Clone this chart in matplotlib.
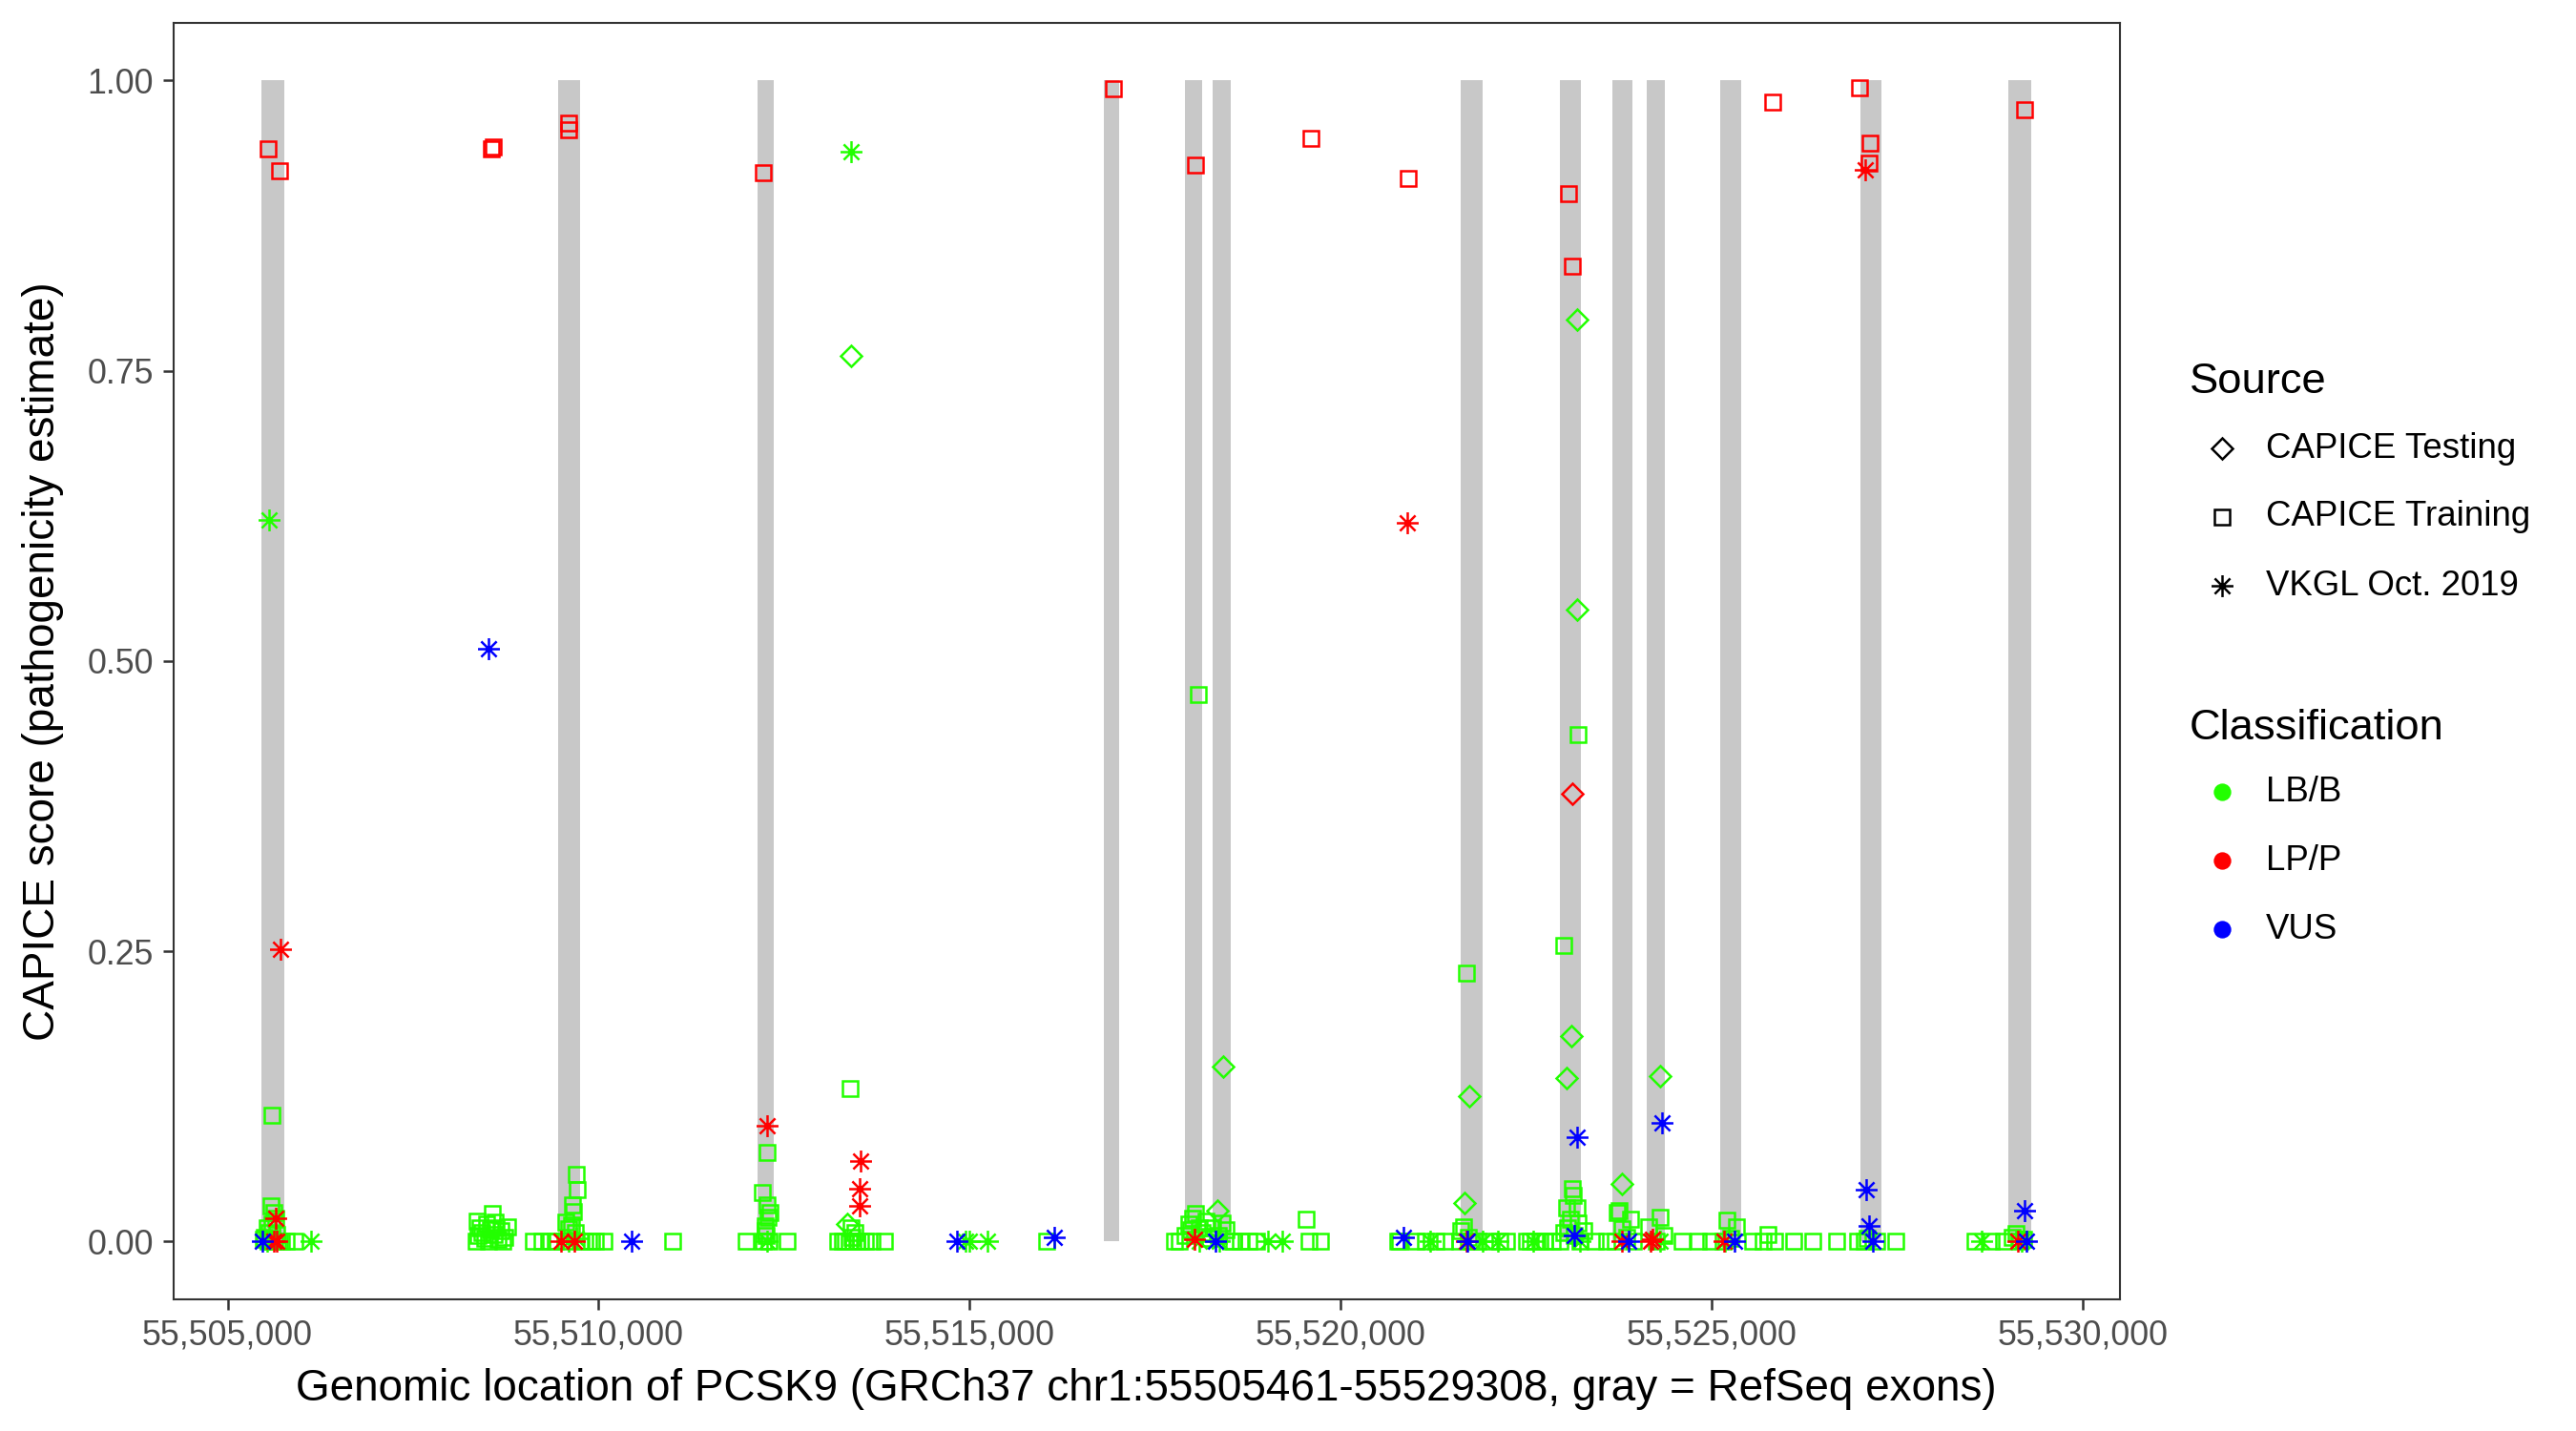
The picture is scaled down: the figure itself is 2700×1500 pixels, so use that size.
import matplotlib
matplotlib.use("Agg")
import matplotlib.pyplot as plt
from matplotlib.path import Path
from matplotlib.lines import Line2D
from matplotlib.ticker import FuncFormatter

plt.rcParams['font.family'] = ['Liberation Sans', 'DejaVu Sans']

# RefSeq exons (gray bars)
exon_start = [55505461, 55509456, 55512140, 55516810, 55517901, 55518274, 55521614,
              55522951, 55523664, 55524123, 55525115, 55527004, 55528996]
exon_end = [55505764, 55509752, 55512362, 55517017, 55518130, 55518521, 55521913,
            55523238, 55523934, 55524370, 55525397, 55527286, 55529308]

# CAPICE Training, LB/B
train_benign_pos = [
    55505596, 55505583, 55505620, 55505650, 55505530, 55505560, 55505600, 55505500,
    55505540, 55505580, 55505630, 55505680, 55505720, 55505790, 55505908, 55505480, 55505660,
    55508350, 55508380, 55508400, 55508430, 55508460, 55508490, 55508520, 55508540,
    55508563, 55508590, 55508620, 55508650, 55508680, 55508710, 55508740, 55508770,
    55508360, 55508600,
    55509120, 55509236, 55509351, 55509420, 55509550, 55509600, 55509640, 55509700,
    55509705, 55509645, 55509660, 55509560, 55509690, 55509760, 55509820, 55509900,
    55509954, 55510069, 55510997,
    55511989, 55512268, 55512200, 55512265, 55512280, 55512240, 55512260, 55512220,
    55512290, 55512250, 55512535, 55512310,
    55513383, 55513223, 55513280, 55513330, 55513380, 55513430, 55513480, 55513530,
    55513600, 55513680, 55513400, 55513450, 55513420, 55513853, 55516040,
    55517760, 55517830, 55517900, 55517950, 55518000, 55518040, 55517980, 55518090,
    55518086, 55518130, 55518180, 55518230, 55518280, 55518350, 55518400, 55518460,
    55518520, 55518560, 55518653, 55518760, 55518868, 55519540, 55519575, 55519724,
    55520774, 55520800, 55521009, 55521137, 55521287, 55521394, 55521688, 55521650,
    55521620, 55521720, 55521760, 55521600, 55521850, 55522000, 55522150, 55522233,
    55522508, 55522560, 55522620, 55522680, 55522750, 55522851,
    55523006, 55523196, 55523127, 55523130, 55523050, 55523180, 55523100, 55523200,
    55522950, 55523000, 55523060, 55523150, 55523230, 55523270, 55523430, 55523579,
    55523729, 55523750, 55523900, 55523793, 55523700, 55523850, 55523950, 55524150,
    55524306, 55524250, 55524350, 55524606, 55524820, 55524991,
    55525206, 55525334, 55525150, 55525250, 55525549, 55525698, 55525763, 55525849,
    55526106, 55526363, 55526684, 55526963, 55527050, 55527100, 55527220, 55527477,
    55528547, 55528761, 55528933, 55529050, 55529103, 55529150, 55529200]
train_benign_score = [
    0.109, 0.031, 0.025, 0.020, 0.012, 0.008, 0.015, 0.004,
    0.0, 0.0, 0.0, 0.0, 0.0, 0.0, 0.0, 0.002, 0.006,
    0.0, 0.005, 0.012, 0.008, 0.003, 0.015, 0.0, 0.010,
    0.024, 0.006, 0.012, 0.002, 0.009, 0.0, 0.004, 0.013,
    0.018, 0.017,
    0.0, 0.0, 0.0, 0.0, 0.0, 0.011, 0.014, 0.0575,
    0.0446, 0.0315, 0.026, 0.017, 0.008, 0.0, 0.0, 0.0,
    0.0, 0.0, 0.0,
    0.0, 0.0766, 0.0425, 0.0316, 0.0207, 0.0137, 0.005, 0.0,
    0.0, 0.009, 0.0, 0.025,
    0.1318, 0.0, 0.0, 0.0, 0.0, 0.0, 0.0, 0.0,
    0.0, 0.0, 0.012, 0.008, 0.004, 0.0, 0.0,
    0.0, 0.0, 0.005, 0.015, 0.020, 0.024, 0.010, 0.012,
    0.471, 0.008, 0.018, 0.003, 0.012, 0.005, 0.016, 0.010,
    0.0, 0.0, 0.0, 0.0, 0.0, 0.019, 0.0, 0.0,
    0.0, 0.0, 0.0, 0.0, 0.0, 0.0, 0.2314, 0.013,
    0.009, 0.004, 0.0, 0.0, 0.0, 0.0, 0.0, 0.0,
    0.0, 0.0, 0.0, 0.0, 0.0, 0.0,
    0.2548, 0.4368, 0.0458, 0.040, 0.029, 0.029, 0.019, 0.016,
    0.0, 0.008, 0.012, 0.005, 0.0, 0.009, 0.0, 0.0,
    0.0254, 0.027, 0.019, 0.011, 0.0, 0.004, 0.0, 0.013,
    0.021, 0.0, 0.005, 0.0, 0.0, 0.0,
    0.0186, 0.0125, 0.0, 0.003, 0.0, 0.0, 0.006, 0.0,
    0.0, 0.0, 0.0, 0.0, 0.0, 0.003, 0.0, 0.0,
    0.0, 0.0, 0.0, 0.004, 0.007, 0.0, 0.002]

# CAPICE Training, LP/P
train_path_pos = [55505550, 55505700, 55508560, 55508575, 55509590, 55509600, 55512223,
                  55516933, 55518040, 55519594, 55520907, 55523070, 55523127, 55525823,
                  55526988, 55527137, 55527120, 55529219]
train_path_score = [0.941, 0.922, 0.941, 0.943, 0.963, 0.958, 0.921,
                    0.993, 0.9275, 0.950, 0.9154, 0.9026, 0.8404, 0.9813,
                    0.9942, 0.9458, 0.929, 0.9747]

# CAPICE Testing, LB/B
test_benign_pos = [55513396, 55518419, 55518333, 55521728, 55521673, 55523185, 55523190,
                   55523104, 55523042, 55523793, 55524298, 55513348]
test_benign_score = [0.7627, 0.151, 0.027, 0.125, 0.033, 0.7942, 0.5442,
                     0.1769, 0.141, 0.0495, 0.1428, 0.0154]

# CAPICE Testing, LP/P
test_path_pos = [55523127]
test_path_score = [0.3856]

# VKGL Oct. 2019, LB/B
vkgl_benign_pos = [55505556, 55513396, 55505530, 55506127, 55509600, 55509700, 55512270,
                   55514948, 55514990, 55515235, 55518090, 55518360, 55519017, 55519210,
                   55521200, 55521908, 55522122, 55522600, 55523220, 55524306, 55525180,
                   55528632, 55529180]
vkgl_benign_score = [0.6217, 0.939, 0.0, 0.0, 0.0, 0.003, 0.0,
                     0.0, 0.0, 0.0, 0.0, 0.0, 0.0, 0.0,
                     0.0, 0.0, 0.0, 0.0, 0.0, 0.0, 0.0,
                     0.0, 0.0]

# VKGL Oct. 2019, LP/P
vkgl_path_pos = [55505714, 55505649, 55505620, 55505660, 55509493, 55509667, 55512268,
                 55513527, 55513522, 55513515, 55518033, 55520897, 55521695, 55523793,
                 55524178, 55524200, 55525164, 55527074, 55529125]
vkgl_path_score = [0.2515, 0.020, 0.0, 0.0, 0.0, 0.0, 0.0996,
                   0.0695, 0.0458, 0.031, 0.002, 0.6192, 0.0, 0.0,
                   0.0, 0.002, 0.0, 0.9231, 0.0]

# VKGL Oct. 2019, VUS
vkgl_vus_pos = [55505470, 55508519, 55510441, 55514834, 55516142, 55518311, 55520846,
                55521705, 55523185, 55523150, 55523879, 55524328, 55525313, 55527082,
                55527125, 55527168, 55529219, 55529240]
vkgl_vus_score = [0.0, 0.511, 0.0, 0.0, 0.0037, 0.0, 0.0036,
                  0.0, 0.0897, 0.005, 0.0, 0.102, 0.0, 0.0446,
                  0.0137, 0.0, 0.027, 0.0]

GREEN = '#22ff00'
RED = '#ff0000'
BLUE = '#0000ff'

# asterisk like R pch 8 (+ and x)
d = 0.7071
asterisk = Path([(0, -1), (0, 1), (-1, 0), (1, 0), (-d, -d), (d, d), (-d, d), (d, -d)],
                [Path.MOVETO, Path.LINETO] * 4)

shape = {'test': ('D', 3.9), 'train': ('s', 3.95), 'vkgl': (asterisk, 5.5)}
MEW = 0.6

fig = plt.figure(figsize=(9, 5), dpi=300)
ax = fig.add_axes([181.7 / 2700, 1 - 1362.3 / 1500, (2221.9 - 181.7) / 2700, (1362.3 - 23.6) / 1500])

# exons
widths = [e - s for s, e in zip(exon_start, exon_end)]
ax.bar(exon_start, [1.0] * len(exon_start), width=widths, bottom=0, align='edge',
       color='#c8c8c8', linewidth=0, zorder=1)

layers = [
    ('train', GREEN, train_benign_pos, train_benign_score),
    ('test', GREEN, test_benign_pos, test_benign_score),
    ('vkgl', GREEN, vkgl_benign_pos, vkgl_benign_score),
    ('train', RED, train_path_pos, train_path_score),
    ('test', RED, test_path_pos, test_path_score),
    ('vkgl', RED, vkgl_path_pos, vkgl_path_score),
    ('vkgl', BLUE, vkgl_vus_pos, vkgl_vus_score),
]
for src, col, xs, ys in layers:
    m, ms = shape[src]
    ax.plot(xs, ys, linestyle='none', marker=m, markersize=ms, mfc='none',
            mec=col, mew=MEW, zorder=2)

# ggplot-like 5% expansion
xmin = min(exon_start + vkgl_vus_pos)
xmax = max(exon_end + vkgl_vus_pos)
pad = 0.05 * (xmax - xmin)
ax.set_xlim(xmin - pad, xmax + pad)
ax.set_ylim(-0.05, 1.05)

ax.set_xticks([55505000, 55510000, 55515000, 55520000, 55525000, 55530000])
ax.xaxis.set_major_formatter(FuncFormatter(lambda v, p: '{:,.0f}'.format(v)))
ax.set_yticks([0, 0.25, 0.5, 0.75, 1.0])
ax.yaxis.set_major_formatter(FuncFormatter(lambda v, p: '{:.2f}'.format(v)))

for sp in ax.spines.values():
    sp.set_color('#333333')
    sp.set_linewidth(0.5)
ax.tick_params(axis='both', length=2.75, width=0.6, color='#333333',
               labelcolor='#4d4d4d', labelsize=8.6, pad=2.2)

ax.set_xlabel('Genomic location of PCSK9 (GRCh37 chr1:55505461-55529308, gray = RefSeq exons)',
              fontsize=11, color='black', labelpad=3.8)
ax.set_ylabel('CAPICE score (pathogenicity estimate)', fontsize=11, color='black', labelpad=6)

# legends drawn by hand in figure pixels
def fx(px):
    return px / 2700

def fy(py):
    return 1 - py / 1500

key_x = 2329
text_x = 2375
fig.text(fx(2295), fy(401), 'Source', fontsize=10.9, va='center', ha='left')
src_labels = ['CAPICE Testing', 'CAPICE Training', 'VKGL Oct. 2019']
src_rows = [470, 542, 614]
for key, lab, row in zip(['test', 'train', 'vkgl'], src_labels, src_rows):
    m, ms = shape[key]
    fig.add_artist(Line2D([fx(key_x)], [fy(row)], transform=fig.transFigure, linestyle='none',
                          marker=m, markersize=ms, mfc='none', mec='black', mew=MEW))
    fig.text(fx(text_x), fy(row), lab, fontsize=8.8, va='center', ha='left')

fig.text(fx(2295), fy(763), 'Classification', fontsize=10.9, va='center', ha='left')
cls_labels = ['LB/B', 'LP/P', 'VUS']
cls_rows = [830, 902, 974]
for col, lab, row in zip([GREEN, RED, BLUE], cls_labels, cls_rows):
    fig.add_artist(Line2D([fx(key_x)], [fy(row)], transform=fig.transFigure, linestyle='none',
                          marker='o', markersize=4.4, mfc=col, mec=col, mew=0))
    fig.text(fx(text_x), fy(row), lab, fontsize=8.8, va='center', ha='left')

fig.savefig('out.png', dpi=300, facecolor='white')
